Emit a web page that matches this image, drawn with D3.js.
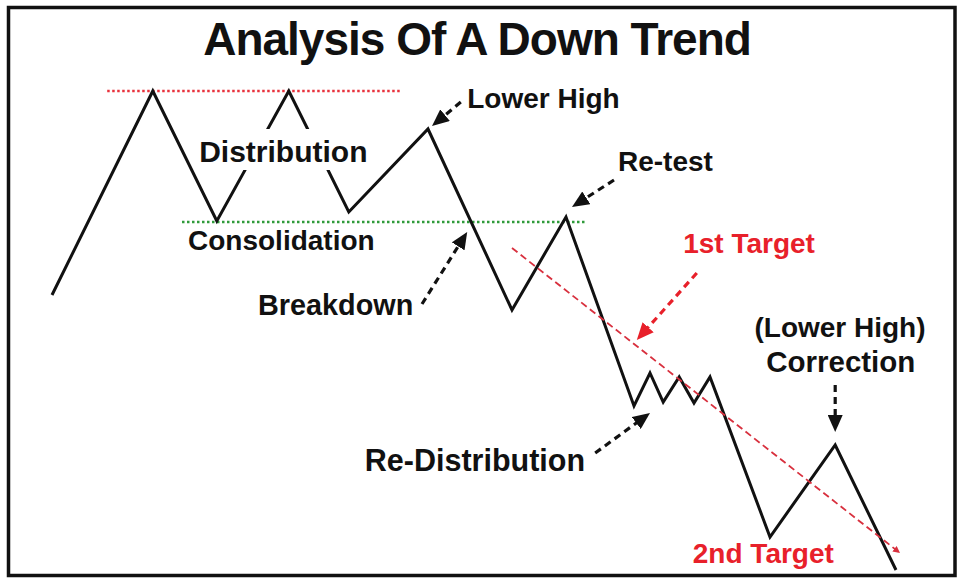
<!DOCTYPE html>
<html>
<head>
<meta charset="utf-8">
<script src="https://cdn.jsdelivr.net/npm/d3@7"></script>
<style>
  body { margin: 0; background: #fff; }
  text { font-family: "Liberation Sans", Arial, Helvetica, sans-serif; font-weight: bold; }
</style>
</head>
<body>
<div id="chart"></div>
<script>
// price path: time step / price level
var times  = [6.5, 19.1, 27.1, 36.1, 43.6, 53.5, 64, 70.75, 79.25, 81.25, 82.9, 84.9, 86.75, 88.75, 96.25, 104.4, 112];
var prices = [57, 97.8, 71.8, 97.8, 73.6, 90.2, 54, 72.6, 34.8, 41.4, 35.6, 40.6, 35.4, 40.6, 8.6, 27, 2];

// horizontal levels [fromTime, toTime, price]
var resistance = [13.4, 50.25, 97.8];
var support = [22.75, 73.1, 71.6];

// trend line [t1, p1, t2, p2]
var trend = [64, 66.4, 112.5, 5.4];

// annotation labels
var labelText  = ["Distribution", "Consolidation", "Lower High", "Breakdown", "Re-test", "1st Target", "(Lower High)", "Correction", "Re-Distribution", "2nd Target"];
var labelTime  = [24.9, 23.5, 58.4, 32.25, 77.25, 85.4, 105, 105.1, 45.6, 86.6];
var labelPrice = [83.6, 66, 94.4, 53, 81.8, 65.4, 48.6, 41.6, 21.8, 3.4];
var labelRed   = [false, false, false, false, false, true, false, false, false, true];
var labelMid   = [false, false, false, false, false, false, true, true, false, false];

// annotation arrows: from (t, p) to (t, p)
var arrowFrom = [[57.6, 95.6], [52.75, 55.2], [76.75, 80], [87.1, 61.4], [74.4, 25.4], [104.4, 39]];
var arrowTo   = [[54, 90.8], [58.4, 69.6], [71.5, 74.6], [79.6, 48], [81.25, 33.4], [104.4, 29.6]];
var arrowRed  = [false, false, false, true, false, false];

var width = 960, height = 581;
// a few labels are set a little larger in the original
var bigLabel = {"Distribution": 30, "Re-Distribution": 30.5, "Correction": 29.5, "Breakdown": 28.8};

var x = d3.scaleLinear().domain([0, 120]).range([0, width]);
var y = d3.scaleLinear().domain([0, 100]).range([580, 80]);

var svg = d3
  .select("#chart")
  .append("svg")
  .attr("width", width)
  .attr("height", height);

var defs = svg.append("defs");
function addMarker(id, color, len, wid) {
  defs
    .append("marker")
    .attr("id", id)
    .attr("markerUnits", "userSpaceOnUse")
    .attr("viewBox", "0 0 " + len + " " + wid)
    .attr("refX", len)
    .attr("refY", wid / 2)
    .attr("markerWidth", len)
    .attr("markerHeight", wid)
    .attr("orient", "auto")
    .append("path")
    .attr("d", "M0,0L" + len + "," + wid / 2 + "L0," + wid + "Z")
    .attr("fill", color);
}
addMarker("head-black", "#111", 17, 15);
addMarker("head-red", "#e8202a", 17, 15);
addMarker("head-trend", "#d8303e", 7, 7);

svg.append("rect").attr("width", width).attr("height", height).attr("fill", "#fff");

// frame
svg
  .append("rect")
  .attr("x", 8.5)
  .attr("y", 7.5)
  .attr("width", 946.5)
  .attr("height", 568)
  .attr("fill", "none")
  .attr("stroke", "#111")
  .attr("stroke-width", 3.5);

svg
  .append("text")
  .attr("x", 477)
  .attr("y", 55)
  .attr("text-anchor", "middle")
  .style("font-size", "46px")
  .style("letter-spacing", "-1px")
  .style("fill", "#111")
  .text("Analysis Of A Down Trend");

// levels
svg
  .append("line")
  .attr("x1", x(resistance[0]))
  .attr("x2", x(resistance[1]))
  .attr("y1", y(resistance[2]))
  .attr("y2", y(resistance[2]))
  .attr("stroke", "#e8323c")
  .attr("stroke-width", 2.5)
  .attr("stroke-dasharray", "2.5,2.5");

svg
  .append("line")
  .attr("x1", x(support[0]))
  .attr("x2", x(support[1]))
  .attr("y1", y(support[2]))
  .attr("y2", y(support[2]))
  .attr("stroke", "#2f9a3a")
  .attr("stroke-width", 2.5)
  .attr("stroke-dasharray", "2.5,2.5");

// price path
var pts = times.map(function (t, i) {
  return [x(t), y(prices[i])];
});
svg
  .append("path")
  .attr("d", d3.line()(pts))
  .attr("fill", "none")
  .attr("stroke", "#111")
  .attr("stroke-width", 3)
  .attr("stroke-linejoin", "miter");

// trend line
svg
  .append("line")
  .attr("x1", x(trend[0]))
  .attr("y1", y(trend[1]))
  .attr("x2", x(trend[2]))
  .attr("y2", y(trend[3]))
  .attr("stroke", "#d8303e")
  .attr("stroke-width", 1.8)
  .attr("stroke-dasharray", "7,4")
  .attr("marker-end", "url(#head-trend)");

// arrows
arrowFrom.forEach(function (f, i) {
  var x1 = x(f[0]), y1 = y(f[1]);
  var x2 = x(arrowTo[i][0]), y2 = y(arrowTo[i][1]);
  var dx = x2 - x1, dy = y2 - y1;
  var len = Math.sqrt(dx * dx + dy * dy);
  // stop the dashes a little before the tip so the head hides the end
  var k = (len - 8) / len;
  var g = svg.append("g");
  g.append("line")
    .attr("x1", x1)
    .attr("y1", y1)
    .attr("x2", x1 + dx * k)
    .attr("y2", y1 + dy * k)
    .attr("stroke", arrowRed[i] ? "#e8202a" : "#111")
    .attr("stroke-width", 3.2)
    .attr("stroke-dasharray", "7,5");
  g.append("line")
    .attr("x1", x1 + dx * (len - 9) / len)
    .attr("y1", y1 + dy * (len - 9) / len)
    .attr("x2", x2)
    .attr("y2", y2)
    .attr("stroke", "none")
    .attr("marker-end", arrowRed[i] ? "url(#head-red)" : "url(#head-black)");
});

// labels
var labels = svg
  .append("g")
  .selectAll("text")
  .data(labelText)
  .enter()
  .append("text")
  .attr("x", function (d, i) { return x(labelTime[i]); })
  .attr("y", function (d, i) { return y(labelPrice[i]); })
  .attr("text-anchor", function (d, i) { return labelMid[i] ? "middle" : "start"; })
  .style("font-size", function (d) { return (bigLabel[d] || 28) + "px"; })
  .style("fill", function (d, i) { return labelRed[i] ? "#e8202a" : "#111"; })
  .text(function (d) { return d; });

// white box behind "Distribution" breaks the price path there
labels
  .filter(function (d) { return d === "Distribution"; })
  .each(function () {
    var b = this.getBBox();
    svg
      .insert("rect", function () { return labels.node().parentNode; })
      .attr("x", b.x - 2)
      .attr("y", b.y - 6)
      .attr("width", b.width + 4)
      .attr("height", b.height + 8)
      .attr("fill", "#fff");
  });
</script>
</body>
</html>
